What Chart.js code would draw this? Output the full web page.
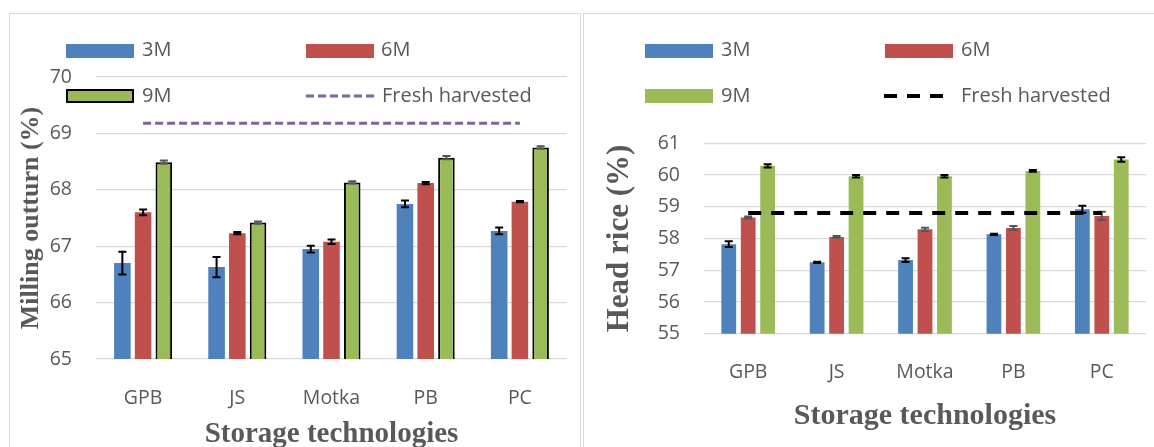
<!DOCTYPE html>
<html>
<head>
<meta charset="utf-8">
<script src="https://cdn.jsdelivr.net/npm/chart.js@4.4.1/dist/chart.umd.min.js"></script>
<style>
  html, body { margin: 0; padding: 0; background: #fff; overflow: hidden; }
  body { width: 1154px; height: 447px; position: relative; font-family: "Open Sans", sans-serif; }
  .box { position: absolute; top: 13px; border: 1px solid #d9d9d9; height: 460px; }
  .box canvas { position: absolute; left: 0; top: 0; }
  .sw { position: absolute; height: 14px; width: 68px; box-sizing: border-box; }
  .lbl { position: absolute; font-size: 20px; line-height: 24px; height: 24px; color: #595959; white-space: nowrap; }
  svg.dash { position: absolute; overflow: visible; }
</style>
</head>
<body>

<div class="box" style="left:9px; width:570px;">
  <canvas id="leftChart" width="570" height="446" style="width:570px;height:446px;"></canvas>
</div>
<div class="box" style="left:583px; width:600px;">
  <canvas id="rightChart" width="570" height="446" style="width:570px;height:446px;"></canvas>
</div>

<!-- legends -->
<div class="sw" style="left:66px; top:44px; background:#4f81bd;"></div>
<div class="lbl" style="left:142px; top:37px;">3M</div>
<div class="sw" style="left:306px; top:44px; background:#c0504d;"></div>
<div class="lbl" style="left:381px; top:37px;">6M</div>
<div class="sw" style="left:66px; top:89px; background:#9bbb59; border:2px solid #000;"></div>
<div class="lbl" style="left:142px; top:83px;">9M</div>
<svg class="dash" style="left:306px; top:96px;" width="69" height="1"><line x1="0" y1="0" x2="69" y2="0" stroke="#8064a2" stroke-width="3" stroke-dasharray="8 4"/></svg>
<div class="lbl" style="left:382px; top:83px;">Fresh harvested</div>

<div class="sw" style="left:645px; top:44px; background:#4f81bd;"></div>
<div class="lbl" style="left:721px; top:37px;">3M</div>
<div class="sw" style="left:885px; top:44px; background:#c0504d;"></div>
<div class="lbl" style="left:961px; top:37px;">6M</div>
<div class="sw" style="left:645px; top:89px; background:#9bbb59;"></div>
<div class="lbl" style="left:721px; top:83px;">9M</div>
<svg class="dash" style="left:884px; top:96px;" width="62" height="1"><line x1="0" y1="0" x2="62" y2="0" stroke="#000" stroke-width="4" stroke-dasharray="13 10"/></svg>
<div class="lbl" style="left:961px; top:83px;">Fresh harvested</div>

<script>
const categories = ["GPB", "JS", "Motka", "PB", "PC"];

// Milling outturn (%)
const mill3M = [66.70, 66.63, 66.95, 67.75, 67.27];
const mill6M = [67.60, 67.23, 67.08, 68.12, 67.79];
const mill9M = [68.49, 67.42, 68.13, 68.57, 68.75];
const millErr3M = [0.20, 0.18, 0.06, 0.06, 0.06];
const millErr6M = [0.05, 0.02, 0.04, 0.02, 0.01];
const millErr9M = [0.03, 0.02, 0.02, 0.03, 0.02];
const millFresh = [69.18, 69.18, 69.18, 69.18, 69.18];
const millTicks = [65, 66, 67, 68, 69, 70];

// Head rice (%)
const head3M = [57.82, 57.25, 57.32, 58.13, 58.92];
const head6M = [58.66, 58.05, 58.29, 58.33, 58.71];
const head9M = [60.29, 59.96, 59.96, 60.13, 60.49];
const headErr3M = [0.09, 0.02, 0.06, 0.02, 0.11];
const headErr6M = [0.03, 0.03, 0.05, 0.06, 0.13];
const headErr9M = [0.05, 0.04, 0.04, 0.03, 0.07];
const headFresh = [58.80, 58.80, 58.80, 58.80, 58.80];
const headTicks = [55, 56, 57, 58, 59, 60, 61];

const blue = '#4f81bd', red = '#c0504d', green = '#9bbb59', grey = '#595959';

// draws the whiskers right after each bar dataset
const errorBars = {
    id: 'errorBars',
    afterDatasetDraw(chart, args) {
        const ds = chart.data.datasets[args.index];
        if (!ds.errors) return;
        const ctx = chart.ctx;
        const y = chart.scales.y;
        ctx.save();
        ctx.strokeStyle = ds.errorColor || '#000';
        ctx.lineWidth = 2;
        args.meta.data.forEach((bar, j) => {
            const v = ds.data[j], e = ds.errors[j];
            const t = y.getPixelForValue(v + e), b = y.getPixelForValue(v - e);
            const x = bar.x;
            ctx.beginPath();
            ctx.moveTo(x, t); ctx.lineTo(x, b);
            ctx.moveTo(x - 4, t); ctx.lineTo(x + 4, t);
            ctx.moveTo(x - 4, b); ctx.lineTo(x + 4, b);
            ctx.stroke();
        });
        ctx.restore();
    }
};

function makeChart(id, cfg) {
    return new Chart(document.getElementById(id), {
        type: 'bar',
        data: {
            labels: categories,
            datasets: [
                { type: 'line', label: 'Fresh harvested', data: cfg.fresh, order: 0,
                  borderColor: cfg.freshColor, borderWidth: cfg.freshWidth, borderDash: cfg.freshDash,
                  pointRadius: 0, fill: false },
                { label: '3M', data: cfg.s3, errors: cfg.e3, errorColor: '#000', backgroundColor: blue, order: 1,
                  categoryPercentage: cfg.catPct, barPercentage: cfg.barPct },
                { label: '6M', data: cfg.s6, errors: cfg.e6, errorColor: cfg.err6Color, backgroundColor: red, order: 1,
                  categoryPercentage: cfg.catPct, barPercentage: cfg.barPct },
                { label: '9M', data: cfg.s9, errors: cfg.e9, errorColor: cfg.err9Color, backgroundColor: green, order: 1,
                  borderColor: '#000', borderWidth: cfg.border9, borderSkipped: false,
                  categoryPercentage: cfg.catPct, barPercentage: cfg.barPct }
            ]
        },
        options: {
            responsive: false,
            animation: false,
            layout: { padding: cfg.padding },
            plugins: { legend: { display: false }, tooltip: { enabled: false } },
            scales: {
                x: {
                    grid: { display: false },
                    border: { display: false },
                    ticks: { color: grey, padding: cfg.xPad, font: { family: 'Open Sans', size: 19.5 } },
                    title: { display: true, text: 'Storage technologies', color: grey, padding: 0,
                             font: { family: 'Liberation Serif', size: cfg.xTitleSize, weight: 'bold' } },
                    afterFit: (s) => { s.height = cfg.xHeight; }
                },
                y: {
                    min: cfg.ticks[0], max: cfg.ticks[cfg.ticks.length - 1],
                    afterBuildTicks: (s) => { s.ticks = cfg.ticks.map(v => ({ value: v })); },
                    grid: { color: '#d9d9d9', lineWidth: 1.3, drawTicks: false },
                    border: { display: false },
                    ticks: { color: grey, padding: 24, font: { family: 'Open Sans', size: 19.5 } },
                    title: { display: true, text: cfg.yTitle, color: grey, padding: 0,
                             font: { family: 'Liberation Serif', size: cfg.yTitleSize, weight: 'bold' } },
                    afterFit: (s) => { s.width = cfg.yWidth; }
                }
            }
        },
        plugins: [errorBars]
    });
}

makeChart('leftChart', {
    s3: mill3M, s6: mill6M, s9: mill9M, e3: millErr3M, e6: millErr6M, e9: millErr9M,
    fresh: millFresh, freshColor: '#8064a2', freshWidth: 3, freshDash: [8, 4],
    err6Color: '#000', err9Color: '#555', border9: 2,
    ticks: millTicks, yTitle: 'Milling outturn (%)', yTitleSize: 26, xTitleSize: 29,
    catPct: 0.66, barPct: 0.8,
    padding: { left: 5.4, top: 63, right: 13, bottom: 7.6 },
    yWidth: 80.6, xHeight: 93.4, xPad: 19.3
});

makeChart('rightChart', {
    s3: head3M, s6: head6M, s9: head9M, e3: headErr3M, e6: headErr6M, e9: headErr9M,
    fresh: headFresh, freshColor: '#000', freshWidth: 4, freshDash: [13, 10],
    err6Color: '#555', err9Color: '#000', border9: 0,
    ticks: headTicks, yTitle: 'Head rice (%)', yTitleSize: 31, xTitleSize: 30,
    catPct: 0.66, barPct: 0.76,
    padding: { left: 17.4, top: 129.3, right: 8, bottom: 25.4 },
    yWidth: 102.6, xHeight: 100.9, xPad: 19.1
});
</script>
</body>
</html>
